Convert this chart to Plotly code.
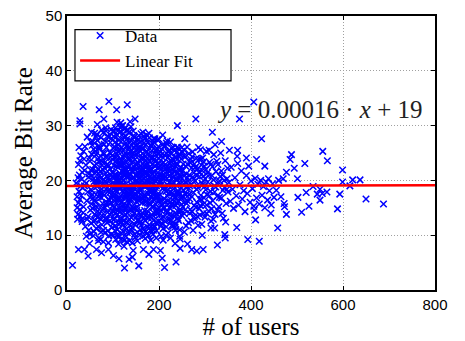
import plotly.graph_objects as go

# ---- data (users, average bit rate) ----
band_020_060 = [(31,17.2),(33,21.5),(35,14.1),(36,25.3),(38,19.0),(40,11.6),(41,22.8),(43,16.3),(44,27.9),(46,13.4),
    (47,20.6),(49,24.1),(50,10.2),(52,18.3),(53,15.7),(55,26.4),(56,22.0),(58,12.5),(59,19.8),(60,28.6),
    (34,18.6),(37,23.9),(42,9.8),(45,17.9),(48,21.2),(51,14.6),(54,20.9),(57,16.8),(39,26.2),(44,12.9),
    (32,20.2),(50,23.5),(58,25.7),(47,10.9),(53,28.8),(36,15.2),(55,17.4),(42,19.5),(60,13.8),(38,21.8),
    (22,17.0),(24,20.5),(26,18.0),(27,21.0),(29,13.5),(30,24.5),(26,26.0),(24,13.8),(33,12.5),(30,19.0)]
band_050_100 = [(61,21.3),(62,16.0),(63,24.7),(64,11.2),(65,18.9),(66,27.3),(67,14.4),(68,22.1),(69,9.5),(70,19.7),
    (71,25.8),(72,13.0),(73,20.4),(74,16.9),(75,29.2),(76,11.9),(77,23.3),(78,17.6),(79,21.9),(80,14.8),
    (81,26.6),(82,10.4),(83,19.1),(84,24.2),(85,15.6),(86,20.8),(87,12.3),(88,28.1),(89,18.0),(90,22.6),
    (91,9.9),(92,16.4),(93,25.1),(94,13.7),(95,21.0),(96,19.3),(97,27.7),(98,11.4),(99,23.8),(100,17.1),
    (62,19.4),(64,23.0),(66,13.3),(68,17.0),(70,26.0),(72,21.6),(74,10.6),(76,18.4),(78,25.0),(80,20.1),
    (82,15.1),(84,29.6),(86,12.8),(88,22.9),(90,16.6),(92,20.0),(94,26.9),(96,14.1),(98,24.5),(100,12.1),
    (63,15.3),(67,20.3),(71,17.4),(75,23.6),(79,13.9),(83,27.2),(87,18.6),(91,24.0),(95,15.9),(99,20.7),
    (65,28.4),(73,9.2),(81,22.3),(89,10.8),(97,18.8),(69,23.4),(77,14.6),(85,19.6),(93,17.8),(61,12.7),
    (50.5,16.9),(51.5,21.9),(52.5,12.2),(53.5,24.8),(54.5,18.1),(55.5,14.9),(56.5,27.1),(57.5,20.3),(58.5,10.7),(59.5,22.7),
    (60.5,16.4),(61.5,25.3),(62.5,13.6),(63.5,19.9),(64.5,21.6),(65.5,15.1),(66.5,23.9),(67.5,11.6),(68.5,18.0),(69.5,26.3),
    (70.5,14.0),(71.5,20.9),(72.5,17.7),(73.5,24.4),(74.5,12.9),(75.5,19.2),(76.5,22.8),(77.5,15.8),(78.5,28.7),(79.5,10.9),
    (80.5,17.3),(81.5,24.9),(82.5,19.8),(83.5,13.1),(84.5,21.3),(85.5,26.0),(86.5,16.0),(87.5,23.0),(88.5,14.2),(89.5,20.4),
    (90.5,27.9),(91.5,18.3),(92.5,12.6),(93.5,22.1),(94.5,16.9),(95.5,24.9),(96.5,10.1),(97.5,21.5),(98.5,15.3),(99.5,28.9),
    (52,27.0),(57,9.9),(63,28.0),(68,9.0),(74,27.8),(79,8.8),(85,29.0),(90,8.6),(96,29.3),(66,30.2)]
band_100_150 = [(101,21.4),(102,15.0),(103,26.1),(104,18.2),(105,11.7),(106,23.5),(107,19.9),(108,13.6),(109,28.3),(110,16.7),
    (111,22.4),(112,9.6),(113,20.2),(114,25.6),(115,14.3),(116,18.8),(117,27.0),(118,12.4),(119,21.7),(120,16.1),
    (121,24.3),(122,10.7),(123,19.4),(124,29.4),(125,14.9),(126,22.0),(127,17.5),(128,26.8),(129,11.1),(130,20.6),
    (131,15.4),(132,23.9),(133,18.5),(134,28.7),(135,12.9),(136,21.1),(137,16.3),(138,25.2),(139,19.2),(140,13.2),
    (100,25.9),(102,20.5),(104,13.1),(106,17.3),(108,24.8),(110,10.1),(112,22.9),(114,16.9),(116,28.9),(118,19.6),
    (120,13.9),(122,25.4),(124,17.7),(126,11.5),(128,21.9),(130,27.5),(132,14.0),(134,19.0),(136,24.6),(138,10.5),(140,22.2),
    (101,17.8),(103,22.7),(105,27.8),(107,14.7),(109,19.3),(111,25.9),(113,12.0),(115,21.3),(117,16.0),(119,29.9),
    (121,18.1),(123,23.1),(125,9.1),(127,20.9),(129,26.3),(131,18.9),(133,12.6),(135,24.0),(137,20.1),(139,27.3),
    (100,14.5),(103,18.7),(106,21.0),(109,15.8),(112,26.5),(115,18.4),(118,23.7),(121,11.9),(124,21.5),(127,13.8),
    (130,17.2),(133,22.3),(136,14.6),(139,16.5),(102,28.0),(108,20.7),(114,20.0),(120,20.4),(126,25.0),(132,20.8),
    (138,18.0),(105,16.6),(111,19.8),(117,22.8),(123,15.6),(129,23.3),(135,17.6),(104,10.8),(116,12.2),(128,9.8),
    (140,11.0),(110,29.0),(122,28.5),(134,26.0),
    (100.5,19.6),(101.5,12.8),(102.5,24.2),(103.5,16.2),(104.5,21.1),(105.5,29.6),(106.5,14.1),(107.5,22.6),(108.5,18.0),(109.5,11.0),
    (110.5,25.3),(111.5,16.4),(112.5,20.8),(113.5,27.4),(114.5,13.0),(115.5,23.1),(116.5,17.2),(117.5,10.4),(118.5,26.0),(119.5,19.1),
    (120.5,22.9),(121.5,15.2),(122.5,20.0),(123.5,27.9),(124.5,12.7),(125.5,24.5),(126.5,18.3),(127.5,22.2),(128.5,14.9),(129.5,29.1),
    (130.5,12.3),(131.5,21.5),(132.5,17.4),(133.5,25.6),(134.5,15.9),(135.5,20.7),(136.5,11.8),(137.5,23.6),(138.5,18.7),(139.5,26.4),
    (140.5,14.7),(141.5,21.8),(142.5,19.0),(143.5,13.5),(144.5,24.9),(145.5,17.0),(146.5,27.9),(147.5,22.0),(148.5,11.9),(149.5,19.9),
    (101,10.0),(104,26.9),(107,24.2),(110,19.0),(113,15.0),(116,24.0),(119,13.0),(122,22.0),(125,17.0),(128,28.0),
    (131,10.5),(134,16.5),(137,27.0),(140,17.8),(143,21.6),(146,26.0),(149,15.0),(103,29.0),(109,30.6),(115,29.7),
    (121,30.0),(127,29.5),(133,29.2),(139,29.8),(145,28.2),(106,9.2),(112,8.4),(118,9.3),(124,8.0),(130,8.8),
    (136,9.0),(142,8.6),(148,9.6),(105,19.0),(111,14.5),(117,19.5),(123,21.0),(129,16.8),(135,22.6),(141,17.0)]
band_140_200 = [(141,20.3),(142,15.2),(143,24.4),(144,18.6),(145,12.1),(146,22.5),(147,27.1),(148,16.8),(149,21.0),(150,13.3),
    (151,25.7),(152,19.5),(153,10.6),(154,23.2),(155,17.0),(156,28.2),(157,14.2),(158,21.8),(159,18.3),(160,26.1),
    (161,11.8),(162,20.0),(163,15.9),(164,24.9),(165,19.1),(166,13.0),(167,22.7),(168,17.4),(169,27.6),(170,12.7),
    (171,21.2),(172,16.2),(173,25.3),(174,19.8),(175,14.4),(176,23.0),(177,18.1),(178,28.6),(179,11.3),(180,20.7),
    (181,15.5),(182,24.1),(183,17.8),(184,22.0),(185,13.7),(186,26.7),(187,19.3),(188,10.9),(189,21.6),(190,16.4),
    (191,25.0),(192,18.7),(193,12.4),(194,23.6),(195,20.2),(196,14.8),(197,27.4),(198,17.2),(199,22.4),(200,15.0),
    (140,25.6),(143,17.9),(146,14.0),(149,26.4),(152,22.8),(155,12.8),(158,25.5),(161,19.0),(164,16.6),(167,28.0),
    (170,21.5),(173,13.9),(176,19.6),(179,24.5),(182,11.6),(185,22.9),(188,17.6),(191,20.8),(194,14.2),(197,21.4),(200,24.0),
    (142,11.4),(145,20.6),(148,23.8),(151,16.1),(154,19.7),(157,26.0),(160,16.5),(163,21.7),(166,25.9),(169,14.5),
    (172,22.3),(175,26.9),(178,15.8),(181,21.9),(184,16.9),(187,24.2),(190,11.5),(193,19.9),(196,25.8),(199,12.6),
    (141,23.4),(144,14.9),(147,18.9),(150,20.9),(153,15.1),(156,21.3),(159,12.3),(162,23.9),(165,28.8),(168,20.4),
    (171,17.0),(174,10.3),(177,22.2),(180,18.2),(183,26.2),(186,15.3),(189,18.5),(192,22.6),(195,10.8),(198,19.4),
    (144,29.0),(150,17.5),(156,17.7),(162,13.5),(168,24.0),(174,21.0),(180,13.4),(186,20.1),(192,15.7),(198,23.1),
    (147,10.2),(153,27.2),(159,20.5),(165,11.2),(171,27.8),(177,13.1),(183,20.4),(189,27.0),(195,17.3),(152,24.7),
    (164,21.2),(176,16.0),(188,14.1),(200,19.2),(158,10.0),(170,9.4),(182,9.1),(194,9.5),
    (150.5,23.0),(151.5,14.5),(152.5,18.0),(153.5,25.1),(154.5,12.6),(155.5,21.0),(156.5,16.3),(157.5,23.7),(158.5,19.4),(159.5,27.0),
    (160.5,13.8),(161.5,21.4),(162.5,18.4),(163.5,25.8),(164.5,14.0),(165.5,22.1),(166.5,17.1),(167.5,11.0),(168.5,19.6),(169.5,24.4),
    (170.5,16.0),(171.5,23.6),(172.5,19.0),(173.5,28.3),(174.5,13.3),(175.5,20.2),(176.5,17.6),(177.5,25.5),(178.5,11.9),(179.5,22.0),
    (180.5,15.8),(181.5,19.3),(182.5,26.5),(183.5,13.1),(184.5,24.0),(185.5,18.2),(186.5,21.1),(187.5,15.1),(188.5,27.6),(189.5,12.8),
    (190.5,20.0),(191.5,23.4),(192.5,17.2),(193.5,25.5),(194.5,19.0),(195.5,13.9),(196.5,22.2),(197.5,16.2),(198.5,26.2),(199.5,20.6),
    (151,20.0),(154,16.5),(157,22.3),(160,12.5),(163,24.2),(166,20.3),(169,17.3),(172,26.5),(175,11.5),(178,21.0),
    (181,17.0),(184,25.4),(187,10.2),(190,23.8),(193,16.9),(196,12.0),(199,24.8),(155,27.5),(161,28.5),(167,26.8),
    (173,22.8),(179,27.8),(185,18.8),(191,27.6),(197,25.0),(153,9.0),(159,11.0),(165,9.8),(171,10.7),(177,9.9),
    (183,10.8),(189,11.7),(195,14.5),(160,22.6),(170,19.0),(180,23.5),(190,18.0),(150,26.3)]
band_200_260 = [(201,21.1),(202,17.3),(203,25.2),(204,13.0),(205,19.8),(206,23.0),(207,15.5),(208,28.3),(209,11.2),(210,20.4),
    (211,16.7),(212,24.6),(213,18.4),(214,12.5),(215,22.2),(216,26.8),(217,14.6),(218,19.2),(219,21.9),(220,10.4),
    (221,17.6),(222,25.5),(223,13.8),(224,20.9),(225,16.1),(226,23.5),(227,18.9),(228,11.8),(229,22.7),(230,15.3),
    (231,26.0),(232,19.5),(233,13.4),(234,21.5),(235,17.0),(236,24.3),(237,12.0),(238,20.1),(239,15.9),(240,22.9),
    (241,18.1),(242,25.8),(243,14.2),(244,19.7),(245,11.0),(246,21.8),(247,16.5),(248,23.9),(249,18.6),(250,13.6),
    (200,27.5),(203,19.1),(206,12.2),(209,24.1),(212,15.0),(215,18.0),(218,27.2),(221,22.3),(224,14.9),(227,25.9),
    (230,20.6),(233,17.4),(236,10.9),(239,19.0),(242,16.3),(245,24.8),(248,20.6),
    (202,22.6),(205,14.4),(208,18.5),(211,21.0),(214,26.3),(217,20.3),(220,15.7),(223,23.2),(226,12.7),(229,17.7),
    (232,23.7),(235,14.0),(238,25.1),(241,13.1),(244,22.0),(247,19.4),(250,25.3),
    (204,16.0),(210,26.2),(216,11.5),(222,19.6),(228,21.2),(234,16.8),(240,17.7),(246,14.7),(207,20.5),(213,22.0),
    (219,16.3),(225,27.0),(231,12.4),(237,23.0),(243,20.4),(249,15.6),
    (200.5,22.3),(201.5,13.7),(202.5,19.6),(203.5,16.4),(204.5,24.6),(205.5,11.8),(206.5,20.9),(207.5,26.5),(208.5,15.0),(209.5,21.7),
    (210.5,13.3),(211.5,18.9),(212.5,22.8),(213.5,16.0),(214.5,20.6),(215.5,25.0),(216.5,14.1),(217.5,22.5),(218.5,17.1),(219.5,24.2),
    (220.5,19.0),(221.5,12.8),(222.5,21.6),(223.5,17.9),(224.5,25.0),(225.5,13.5),(226.5,20.4),(227.5,15.6),(228.5,24.0),(229.5,19.3),
    (230.5,11.7),(231.5,21.9),(232.5,16.2),(233.5,25.4),(234.5,18.6),(235.5,22.6),(236.5,15.4),(237.5,20.4),(238.5,13.9),(239.5,23.8),
    (240.5,17.4),(241.5,21.4),(242.5,12.7),(243.5,24.4),(244.5,17.6),(245.5,20.9),(246.5,14.3),(247.5,22.4),(248.5,17.0),(249.5,26.0),
    (251.5,15.2),(252.5,23.0),(253.5,18.1),(254.5,20.8),(256.5,14.6),(257.5,24.3),(258.5,17.4),(259.5,21.2),(261.5,16.3),(262.5,22.9),
    (205,9.8),(215,10.0),(225,9.5),(235,11.5),(245,9.8),(255,10.6),(210,23.3),(220,25.2),(230,22.1),(240,26.1)]
band_250_350 = [(251,21.7),(252,17.1),(254,24.4),(255,13.9),(257,19.6),(258,22.6),(260,15.8),(261,26.1),(263,18.3),(264,12.3),
    (266,21.0),(267,16.6),(269,23.8),(270,19.3),(272,14.3),(273,25.2),(275,17.8),(276,21.4),(278,12.9),(279,19.9),
    (281,24.0),(282,16.0),(284,22.1),(285,18.6),(287,14.9),(288,20.7),(290,25.6),(291,17.3),(293,12.0),(294,21.8),
    (296,15.6),(297,23.4),(299,18.9),(300,20.3),
    (253,19.4),(256,16.1),(259,11.7),(262,20.5),(265,24.9),(268,14.7),(271,22.3),(274,10.9),(277,23.0),(280,15.1),
    (283,19.1),(286,26.0),(289,13.7),(292,22.8),(295,19.2),(298,16.8),
    (255,25.5),(260,18.9),(265,17.4),(270,12.6),(275,20.2),(280,22.5),(285,11.8),(290,15.4),(295,24.1),(300,13.3),
    (302,22.0),(304,17.4),(306,19.7),(308,14.4),(310,23.3),(312,18.0),(313,12.6),(315,20.9),(317,16.3),(319,24.7),
    (320,19.0),(322,13.8),(324,21.6),(326,17.1),(328,22.9),(330,15.2),(332,19.9),(334,25.0),(336,16.8),(338,21.0),
    (340,13.1),(342,18.7),(344,23.6),(346,15.8),(348,20.3),(350,17.9),
    (303,25.3),(307,20.8),(311,15.9),(316,22.5),(321,17.9),(327,14.6),(333,20.7),(339,18.2),(345,12.4),(349,22.2),
    (263.5,19.9),(266.5,14.0),(268.5,23.2),(271.5,17.0),(273.5,20.6),(276.5,15.4),(278.5,22.3),(281.5,18.4),(283.5,13.4),(286.5,21.5),
    (288.5,16.6),(291.5,23.9),(293.5,19.5),(296.5,14.0),(298.5,22.6),(301.5,18.3),(303.5,15.5),(305.5,21.4),(309.5,17.2),(312.5,22.9),
    (314.5,14.8),(318.5,20.1),(323.5,18.8),(325.5,23.5),(329.5,19.6),(331.5,16.9),(335.5,21.7),(337.5,14.0),(341.5,20.0),(347.5,18.4),
    (267,19.0),(272,24.3),(277,13.4),(282,20.9),(287,23.9),(292,16.5),(297,20.8),(304,13.9),(309,25.5),(318,12.9)]
band_350_470 = [(352,19.6),(355,16.2),(357,22.4),(360,18.4),(362,14.9),(365,20.5),(368,17.2),(371,23.1),(373,15.5),(376,19.2),
    (379,21.7),(381,16.6),(384,18.1),(387,14.3),(390,20.9),(392,17.6),(395,22.6),(398,16.0),(400,19.9),(403,18.5),
    (406,15.3),(409,20.4),(412,16.8),(415,19.3),(418,15.7),(421,20.0),(424,17.3),(427,18.9),(430,15.0),(433,19.7),
    (436,16.4),(440,18.1),(444,15.5),(447,19.4),(450,16.9),(438,20.3),(455,18.2),(460,20.0),(465,17.0)]
outliers = [(35,33.5),(70,32.9),(91,34.4),(108,32.9),(131,33.8),(28,30.9),(28,30.3),(80,31.2),(148,31.2),(137,30.7),
    (117,30.5),(280,31.2),(240,30.0),(375,31.2),(406,34.3),(316,28.8),(256,27.6),(336,27.1),(423,27.6),(322,26.5),
    (353,25.5),(371,25.5),(556,25.3),(488,24.7),(485,23.8),(370,24.4),(390,24.1),(412,23.8),(566,23.6),(517,23.1),
    (494,22.2),(430,22.6),(477,21.5),(599,21.9),(501,20.3),(470,20.3),(621,20.1),(637,20.1),(599,19.7),(615,19.0),
    (535,18.9),(550,18.4),(565,17.9),(555,17.6),(520,17.8),(544,17.5),(593,17.5),(502,16.9),(550,16.4),(650,16.6),
    (688,15.7),(526,15.3),(588,14.8),(510,14.2),(472,15.8),(473,15.2),(477,13.8),(458,11.3),(418,8.9),(393,9.2),
    (410,12.8),(407,14.6),(443,14.0),(369,11.4),(343,10.1),(344,9.5),(327,8.2),(321,11.3),(313,11.3),(296,7.4),
    (294,10.0),(282,7.1),(271,7.4),(262,8.4),(237,5.1),(246,7.6),(246,9.3),(235,8.5),(212,4.1),(207,5.8),
    (203,7.2),(209,9.1),(188,7.4),(178,6.5),(156,4.4),(144,7.2),(166,7.4),(125,4.0),(135,5.6),(142,6.0),
    (113,5.7),(101,6.3),(90,7.4),(75,6.8),(64,7.4),(46,6.2),(38,7.4),(25,7.4),(12,4.5),(49,8.5),
    (23,12.9),(32,12.9),(20,19.5),(25,22.9),(28,23.6),(25,15.9),(28,16.5),(22,15.0),(28,14.7)]

fit_slope = 0.00016
fit_intercept = 19
x_range = [0, 800]
y_range = [0, 50]
x_ticks = [0, 200, 400, 600, 800]
y_ticks = [0, 10, 20, 30, 40, 50]

points = (band_020_060 + band_050_100 + band_100_150 + band_140_200 + band_200_260
          + band_250_350 + band_350_470 + outliers)
users = [p[0] for p in points]
rate = [p[1] for p in points]
fit_x = x_range
fit_y = [fit_slope * v + fit_intercept for v in fit_x]

fig = go.Figure()
fig.add_trace(go.Scatter(
    x=users, y=rate, mode="markers", name="Data",
    marker=dict(symbol="x-thin", size=6.5, color="#0000ff",
                line=dict(width=1.5, color="#0000ff")),
))
fig.add_trace(go.Scatter(
    x=fit_x, y=fit_y, mode="lines", name="Linear Fit",
    line=dict(color="#ff0000", width=2.5),
))

fig.add_annotation(
    x=550, y=33.0, xref="x", yref="y", showarrow=False,
    text="<i>y</i> = 0.00016 · <i>x</i> + 19",
    font=dict(family="Liberation Serif", size=25, color="#222"),
)

# legend frame (white box with black border)
fig.add_shape(type="rect", xref="paper", yref="paper",
              x0=0.0217, x1=0.4457, y0=0.7633, y1=0.9505,
              fillcolor="white", line=dict(color="black", width=1.2), layer="above")

axis_common = dict(
    showline=True, linecolor="black", linewidth=1.5, mirror="ticks",
    ticks="inside", ticklen=4, tickcolor="black",
    showgrid=True, gridcolor="#a0a0a0", griddash="1px,2px", gridwidth=1,
    zeroline=False, ticklabeloverflow="allow",
    tickfont=dict(family="Liberation Sans", size=15, color="black"),
    title_font=dict(family="Liberation Serif", size=25, color="black"),
)

fig.update_xaxes(range=x_range, tickvals=x_ticks, title_text="# of users",
                 title_standoff=2, **axis_common)
fig.update_yaxes(range=y_range, tickvals=y_ticks, title_text="Average Bit Rate",
                 title_standoff=6, **axis_common)

fig.update_layout(
    width=465, height=341,
    margin=dict(l=67, r=30, t=7, b=51),
    plot_bgcolor="white", paper_bgcolor="white",
    showlegend=True,
    legend=dict(
        x=0.022, y=0.993, xanchor="left", yanchor="top",
        bgcolor="rgba(0,0,0,0)", borderwidth=0,
        font=dict(family="Liberation Serif", size=17, color="black"),
        itemwidth=40, tracegroupgap=0,
    ),
)

fig.write_html("out.html")
